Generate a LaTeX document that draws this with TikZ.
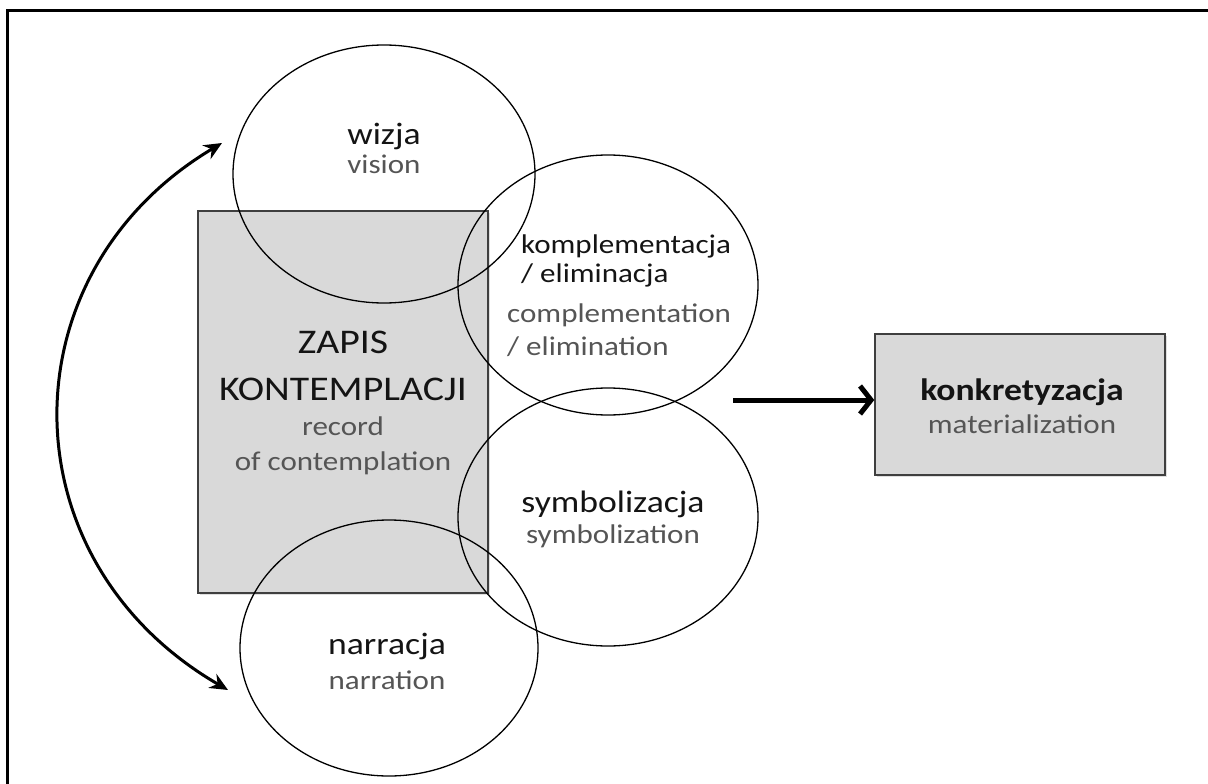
\documentclass[tikz,border=0pt]{standalone}
\usepackage{fontspec}
\setmainfont{Carlito}[FakeStretch=1.15]
\usetikzlibrary{arrows.meta,shapes.geometric,shadows,calc}
\definecolor{boxfill}{HTML}{D9D9D9}
\definecolor{boxline}{HTML}{3F3F3F}
\definecolor{enText}{HTML}{555555}
\definecolor{plText}{HTML}{141414}
\begin{document}
\begin{tikzpicture}[x=1pt,y=-1pt,
  greybox/.style={draw=boxline, line width=1.5pt, fill=boxfill, inner sep=0pt,
    drop shadow={opacity=0.25, shadow xshift=2pt, shadow yshift=-2pt}},
  bubble/.style={ellipse, draw=black, line width=1.3pt, inner sep=0pt},
  pl/.style={text=plText, font=\fontsize{31}{34}\selectfont, inner sep=0pt, anchor=base},
  en/.style={text=enText, font=\fontsize{27}{34}\selectfont, inner sep=0pt, anchor=base},
]
\useasboundingbox (0,0) rectangle (1208,784);

% frame along the top and left edges
\coordinate (frameBL) at (7.5,784);
\coordinate (frameTL) at (7.5,10.5);
\coordinate (frameTR) at (1208,10.5);
\draw[line width=3pt] (frameBL) -- (frameTL) -- (frameTR);

% central record box
\node[greybox, minimum width=290pt, minimum height=382pt] (zapis) at (343,402) {};

% the four overlapping bubbles
\node[bubble, minimum width=302pt, minimum height=258pt] (wizja) at (384,174) {};
\node[bubble, minimum width=300pt, minimum height=260pt] (kompl) at (608,285) {};
\node[bubble, minimum width=300pt, minimum height=258pt] (symb) at (608,517) {};
\node[bubble, minimum width=298pt, minimum height=256pt] (narr) at (389,648) {};

% result box
\node[greybox, minimum width=290pt, minimum height=141pt] (mat) at (1020,404.5) {};

% labels (multi-line nodes sit on the baseline of their last line)
\node[text=plText, font=\fontsize{34.6}{47}\selectfont, align=center, inner sep=0pt, anchor=base] (zapisPL) at (343,400) {ZAPIS\\KONTEMPLACJI};
\node[en, align=center, font=\fontsize{27}{35}\selectfont] (zapisEN) at (343,470) {record\\of contemplation};

\node[pl] (wizjaPL) at (384,144) {wizja};
\node[en] (wizjaEN) at (384,173) {vision};

\node[pl, font=\fontsize{27}{29}\selectfont, align=left, anchor=base west] (komplPL) at (521,282) {komplementacja\\/ eliminacja};
\node[en, font=\fontsize{27}{33}\selectfont, align=left, anchor=base west] (komplEN) at (507,355) {complementation\\/ elimination};

\node[pl] (symbPL) at (613,512) {symbolizacja};
\node[en] (symbEN) at (613,543) {symbolization};

\node[pl] (narrPL) at (387,654) {narracja};
\node[en] (narrEN) at (387,689) {narration};

\node[pl, font=\bfseries\fontsize{31}{34}\selectfont] (matPL) at (1022,400) {konkretyzacja};
\node[en] (matEN) at (1022,433) {materialization};

% arrows
\coordinate (loopTop) at (222,143);
\coordinate (loopBot) at (228,690);
\draw[line width=3pt, {Stealth[length=18pt,width=16pt,inset=6pt]}-{Stealth[length=18pt,width=16pt,inset=6pt]}]
  (loopTop) .. controls (4,273) and (4,560) .. (loopBot);

\coordinate (arrStart) at (733,400);
\draw[line width=5pt, -{Straight Barb[length=11pt,width=28pt]}] (arrStart) -- (arrStart -| mat.west);
\end{tikzpicture}
\end{document}
